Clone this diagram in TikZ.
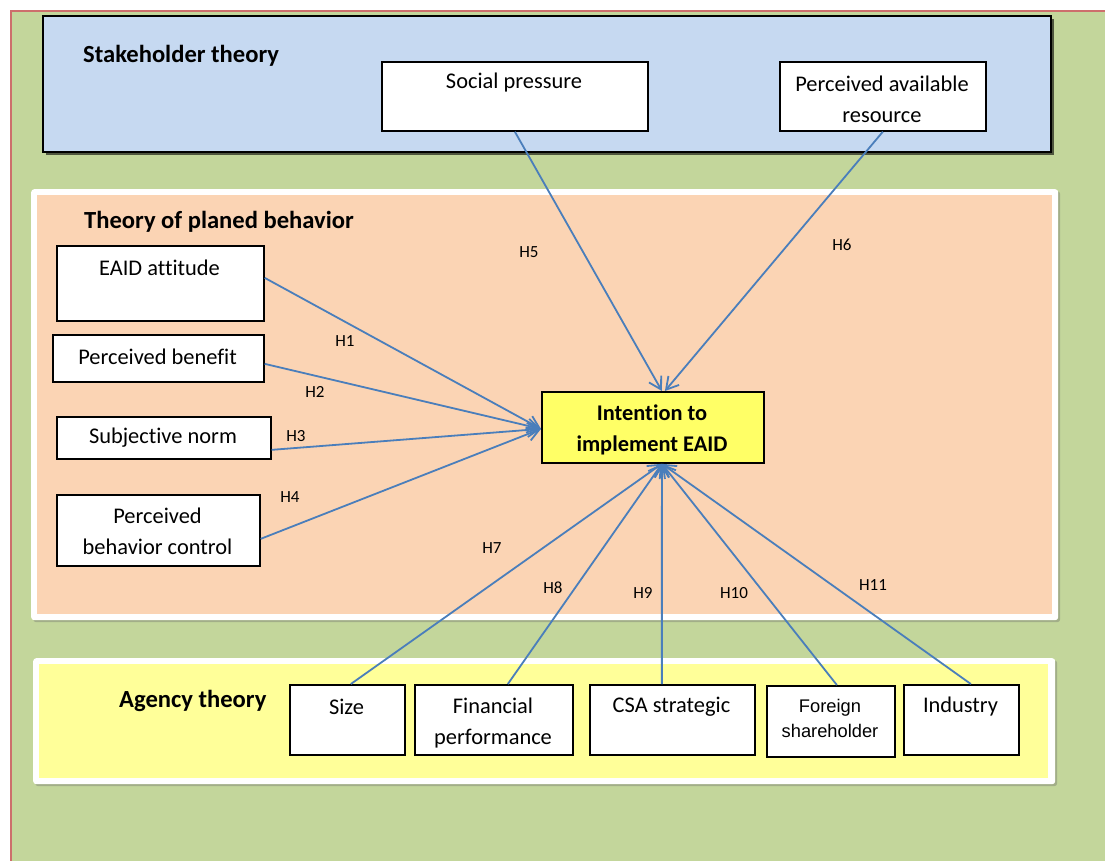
\documentclass[tikz,border=0pt]{standalone}
\usepackage{fontspec}
\setmainfont{Carlito}[Ligatures=NoCommon]
\newfontfamily\arialf{Liberation Sans}
\usetikzlibrary{arrows.meta,shadows,calc}
\definecolor{bggreen}{HTML}{C3D69B}
\definecolor{redline}{HTML}{CD6F6C}
\definecolor{bluepanel}{HTML}{C6D9F1}
\definecolor{orangepanel}{HTML}{FBD4B4}
\definecolor{yellowpanel}{HTML}{FFFF99}
\definecolor{intyellow}{HTML}{FFFF66}
\definecolor{arrowblue}{HTML}{4A7EBB}
\begin{document}
\begin{tikzpicture}[x=1pt,y=-1pt,
  box/.style={draw=black,line width=1.7pt,fill=white,anchor=north west,inner sep=0pt},
  txt/.style={font=\fontsize{22.4}{31}\selectfont,align=center,inner sep=0pt},
  title/.style={font=\fontsize{24.6}{28}\selectfont\bfseries,inner sep=0pt},
  hlab/.style={font=\fontsize{17}{20}\selectfont,inner sep=0pt},
  arr/.style={draw=arrowblue,line width=1.8pt,-{Straight Barb[length=12pt,width=14pt,line width=1.8pt]}},
  panelshadow/.style={drop shadow={shadow xshift=2pt,shadow yshift=-2pt,opacity=0.35,fill=black!60}}
]
\useasboundingbox (0,0) rectangle (1105,861);
% background
\fill[white] (0,0) rectangle (1105,861);
\fill[bggreen] (11,11) rectangle (1105,861);
\draw[redline,line width=1.8pt] (11,861) -- (11,11) -- (1105,11);

% stakeholder panel
\node[draw=black,line width=1.8pt,fill=bluepanel,anchor=north west,inner sep=0pt,
  minimum width=1008pt,minimum height=136pt,
  drop shadow={shadow xshift=3pt,shadow yshift=-3pt,opacity=0.6,fill=black}] (stk) at (42,15) {};
\node[title,anchor=west] (stkt) at (83,56) {Stakeholder theory};

% TPB panel
\node[fill=white,rounded corners=3pt,anchor=north west,inner sep=0pt,
  minimum width=1027pt,minimum height=431pt,panelshadow] (tpbw) at (31,189) {};
\node[fill=orangepanel,anchor=north west,inner sep=0pt,
  minimum width=1015pt,minimum height=419pt] (tpb) at (37,195) {};
\node[title,anchor=west] (tpbt) at (84,222) {Theory of planed behavior};

% Agency panel
\node[fill=white,rounded corners=3pt,anchor=north west,inner sep=0pt,
  minimum width=1022pt,minimum height=126pt,panelshadow] (agw) at (33,658) {};
\node[fill=yellowpanel,anchor=north west,inner sep=0pt,
  minimum width=1009pt,minimum height=114pt] (ag) at (39,664) {};
\node[title,anchor=west] (agt) at (119,701) {Agency theory};

% stakeholder boxes
\node[box,minimum width=266pt,minimum height=69pt] (sp) at (381,61) {};
\node[txt] (spt) at (514,83) {Social pressure};
\node[box,minimum width=206pt,minimum height=69pt] (par) at (779,61) {};
\node[txt] (part) at (882,99) {Perceived available\\resource};

% TPB boxes
\node[box,minimum width=207pt,minimum height=75pt] (ea) at (56,245) {};
\node[txt] (eat) at (159.5,268) {EAID attitude};
\node[box,minimum width=211pt,minimum height=47pt] (pb) at (52,334) {};
\node[txt] (pbt) at (157.5,357) {Perceived benefit};
\node[box,minimum width=214pt,minimum height=42pt] (sn) at (56,416) {};
\node[txt] (snt) at (163,438) {Subjective norm};
\node[box,minimum width=203pt,minimum height=71pt] (pbc) at (56,494) {};
\node[txt] (pbct) at (157.5,531) {Perceived\\behavior control};

% intention
\node[draw=black,line width=1.8pt,fill=intyellow,anchor=north west,inner sep=0pt,
  minimum width=222pt,minimum height=71pt] (int) at (541,391) {};
\node[txt,font=\fontsize{22.4}{31}\selectfont\bfseries] (intt) at (652,430) {Intention to\\implement EAID};

% agency boxes
\node[box,minimum width=115pt,minimum height=70pt] (sz) at (289,684) {};
\node[txt] (szt) at (346.5,707) {Size};
\node[box,minimum width=158pt,minimum height=70pt] (fp) at (414,684) {};
\node[txt] (fpt) at (493,723) {Financial\\performance};
\node[box,minimum width=165pt,minimum height=70pt] (csa) at (589,684) {};
\node[txt] (csat) at (671.5,707) {CSA strategic};
\node[box,minimum width=128pt,minimum height=71pt] (fs) at (766,685) {};
\node[txt,font=\arialf\fontsize{18.3}{25}\selectfont] (fst) at (830,718) {Foreign\\shareholder};
\node[box,minimum width=115pt,minimum height=70pt] (ind) at (903,684) {};
\node[txt] (indt) at (960.5,707) {Industry};

% arrows
\draw[arr] (sp.south) -- ([xshift=9pt]int.north);
\draw[arr] (par.south) -- ([xshift=12pt]int.north);
\draw[arr] ([yshift=5.5pt]ea.east) -- ([yshift=-1.5pt]int.west);
\draw[arr] ([yshift=-5.5pt]pb.east) -- ([yshift=-1.5pt]int.west);
\draw[arr] ([yshift=-12pt]sn.east) -- ([yshift=-1.5pt]int.west);
\draw[arr] ([yshift=-8.5pt]pbc.east) -- ([yshift=-1.5pt]int.west);
\draw[arr] ([xshift=3.5pt]sz.north) -- ([xshift=9pt]int.south);
\draw[arr] ([xshift=14pt]fp.north) -- ([xshift=9pt]int.south);
\draw[arr] ([xshift=-10.5pt]csa.north) -- ([xshift=9pt]int.south);
\draw[arr] ([xshift=6pt]fs.north) -- ([xshift=9pt]int.south);
\draw[arr] ([xshift=9.5pt]ind.north) -- ([xshift=9pt]int.south);

% labels
\node[hlab] (h5) at (529,252) {H5};
\node[hlab] (h6) at (842,245) {H6};
\node[hlab] (h1) at (345,341) {H1};
\node[hlab] (h2) at (315,392) {H2};
\node[hlab] (h3) at (296,436) {H3};
\node[hlab] (h4) at (290,497) {H4};
\node[hlab] (h7) at (492,548) {H7};
\node[hlab] (h8) at (553,588) {H8};
\node[hlab] (h9) at (643,593) {H9};
\node[hlab] (h10) at (734,593) {H10};
\node[hlab] (h11) at (873,585) {H11};
\end{tikzpicture}
\end{document}
